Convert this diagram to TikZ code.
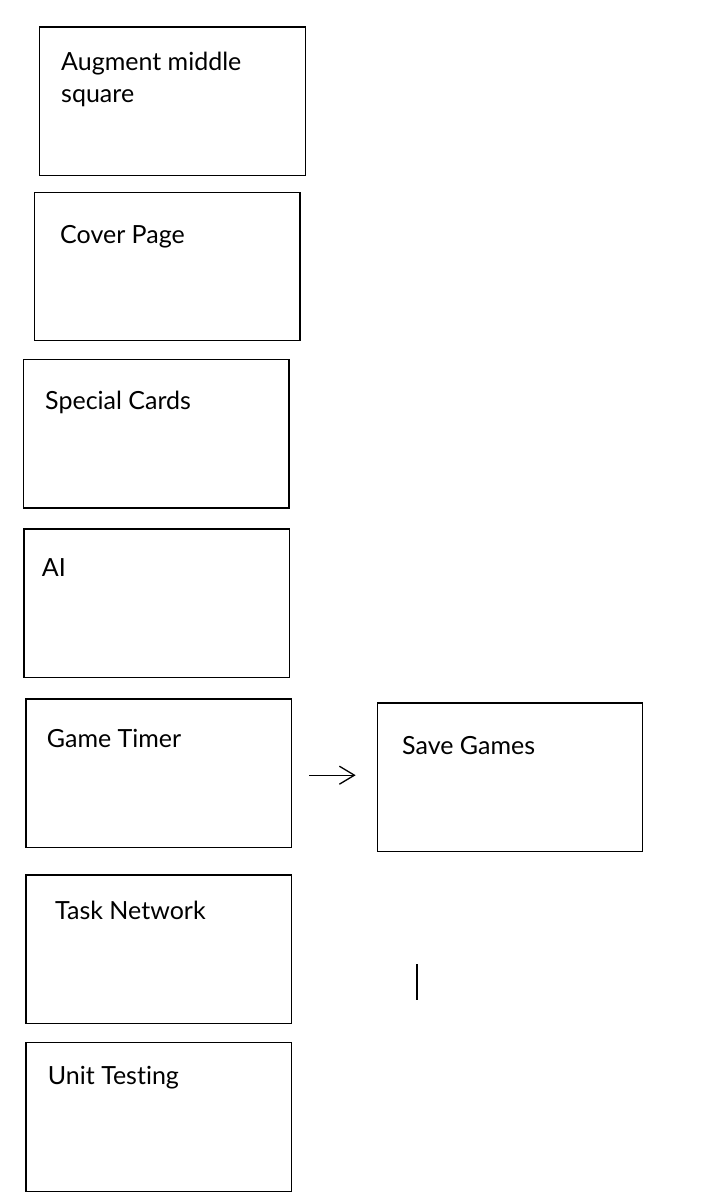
\documentclass[tikz,border=0pt]{standalone}
\usepackage{fontspec}
\setmainfont{Lato}[Ligatures=NoCommon]
\usetikzlibrary{arrows.meta}

\begin{document}
\begin{tikzpicture}[x=1pt,y=-1pt,>={Straight Barb[length=15pt,width=18pt]},card/.style={draw, line width=1.2pt, minimum width=265.5pt, minimum height=148.5pt, inner sep=0pt},tasktext/.style={anchor=base west, inner sep=0pt, align=left, font=\fontsize{25}{32}\selectfont}]
\useasboundingbox (0,0) rectangle (718,1198);
\node[card] (augment) at (172.5,101.3) {};\node[tasktext] (augmentlbl) at (61,103) {Augment middle\\square};
\node[card] (cover) at (167.2,266.5) {};\node[tasktext] (coverlbl) at (60,243.3) {Cover Page};
\node[card] (special) at (156.2,433.8) {};\node[tasktext] (speciallbl) at (45,409) {Special Cards};
\node[card] (ai) at (156.7,603.3) {};\node[tasktext] (ailbl) at (41.7,576) {AI};
\node[card] (timer) at (158.8,773.2) {};\node[tasktext] (timerlbl) at (46.7,747.3) {Game Timer};
\node[card] (save) at (510,777.2) {};\node[tasktext] (savelbl) at (402,754) {Save Games};
\node[card] (network) at (158.8,949.2) {};\node[tasktext] (networklbl) at (55,919) {Task Network};
\node[card] (testing) at (158.8,1117) {};\node[tasktext] (testinglbl) at (47.7,1084.3) {Unit Testing};
\draw[->, line width=1.3pt, shorten <=17pt, shorten >=21pt] ([yshift=-2pt]timer.east) -- ([yshift=-2pt]timer.east -| save.west);
\draw[line width=1.8pt] (417,964) -- (417,1000);
\end{tikzpicture}
\end{document}
